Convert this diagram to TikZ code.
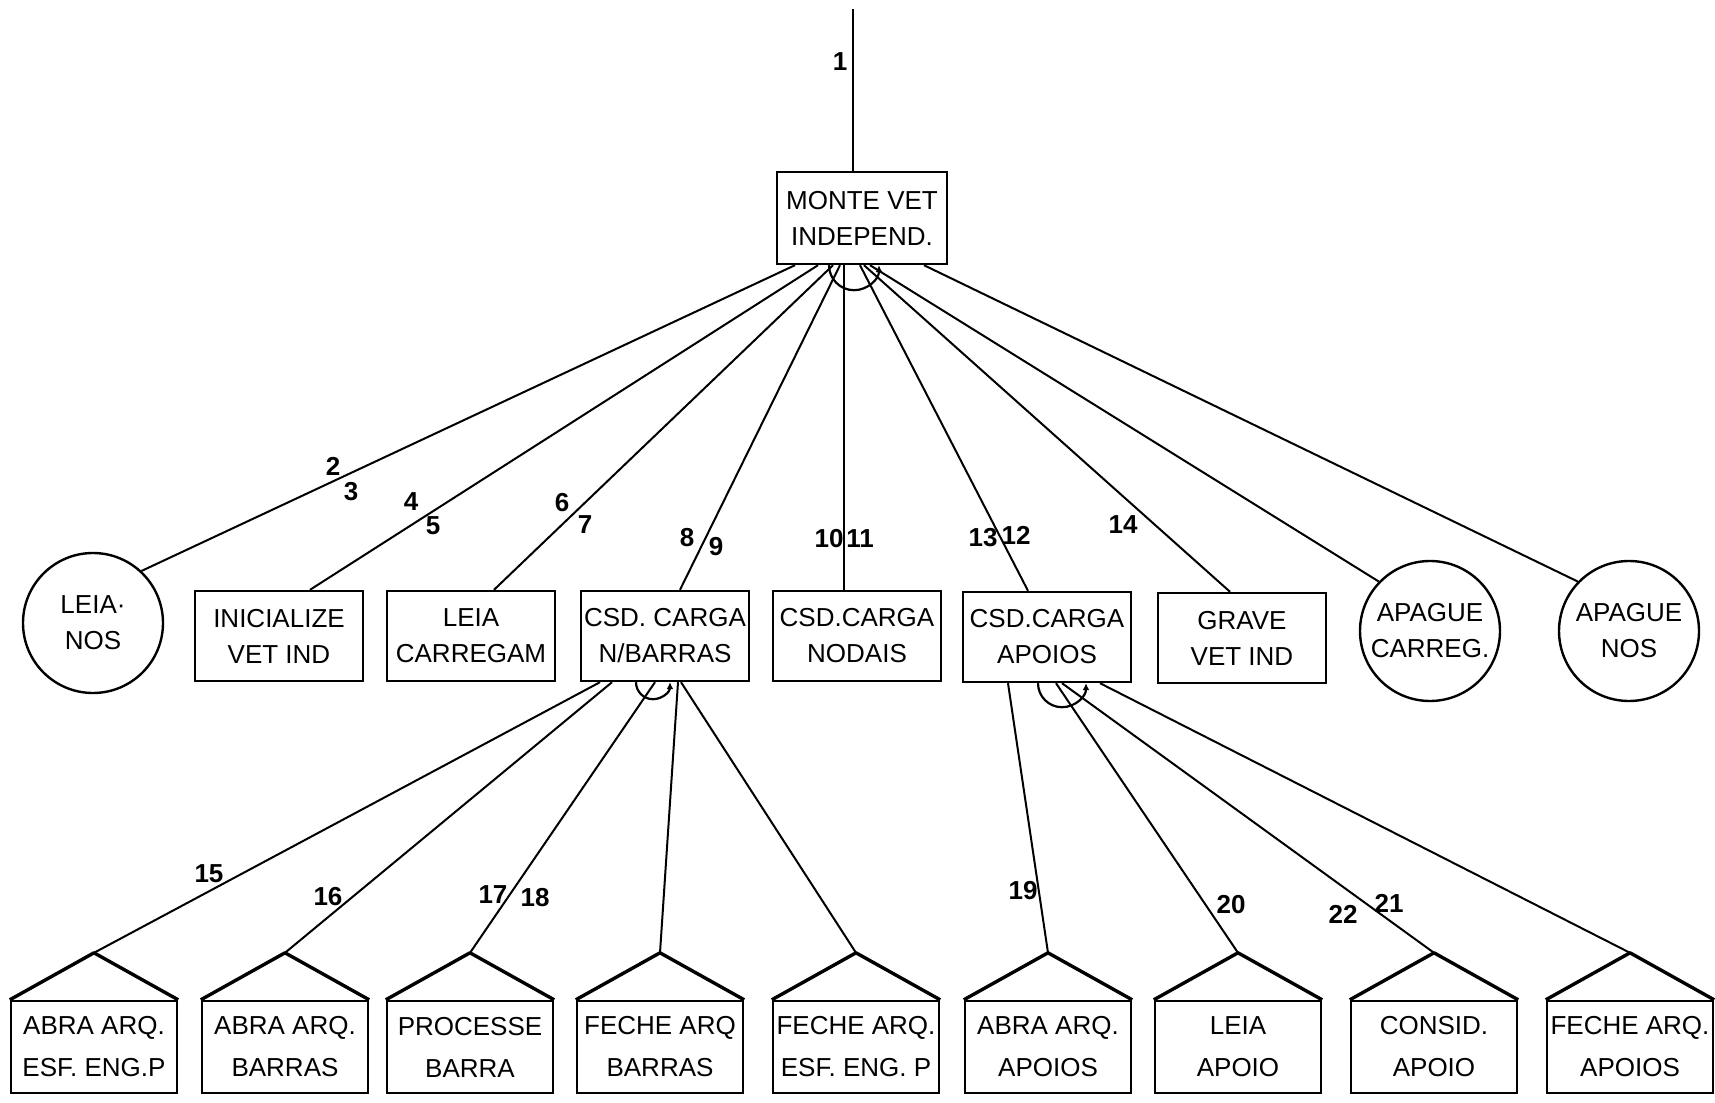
\documentclass[tikz,border=0pt]{standalone}
\usepackage{fontspec}
\setmainfont{Liberation Sans}
\usetikzlibrary{calc}
\usetikzlibrary{arrows.meta}

\begin{document}
\begin{tikzpicture}[x=0.5pt,y=-0.5pt,
  every node/.style={inner sep=0pt,font=\fontsize{13}{18}\selectfont},
  modbox/.style={draw,line width=1.2pt,minimum width=84pt,minimum height=45pt,align=center},
  filebox/.style={draw,line width=1.2pt,minimum width=83pt,minimum height=46pt,align=center,font=\fontsize{13}{21}\selectfont},
  endcirc/.style={draw,circle,line width=1.2pt,minimum size=70pt,align=center},
  num/.style={font=\fontsize{13}{13}\selectfont\bfseries},
  conn/.style={line width=1pt},
  roof/.style={line width=1.7pt,line join=round},
  iter/.style={line width=1.1pt,-{Latex[length=3.5pt,width=3.5pt]}}]
\useasboundingbox (0,0) rectangle (1715,1103);

% top module
\node[modbox,minimum width=85pt,minimum height=46pt] (monte) at (862,218) {MONTE VET\\INDEPEND.};
\coordinate (entry) at (853,9);
\draw[conn] (entry) -- ($(monte.north)+(-9,0)$);
\node[num] (l1) at (840,62) {1};

% second level
\node[endcirc] (leianos) at (93,623) {LEIA·\\NOS};
\node[modbox] (inicial) at (279,636) {INICIALIZE\\VET IND};
\node[modbox] (leiacar) at (471,636) {LEIA\\CARREGAM};
\node[modbox] (csdbar) at (665,636) {CSD. CARGA\\N/BARRAS};
\node[modbox] (csdnod) at (857,636) {CSD.CARGA\\NODAIS};
\node[modbox] (csdapo) at (1047,637) {CSD.CARGA\\APOIOS};
\node[modbox] (grave) at (1242,638) {GRAVE\\VET IND};
\node[endcirc] (apagcar) at (1430,631) {APAGUE\\CARREG.};
\node[endcirc] (apagnos) at (1629,631) {APAGUE\\NOS};

\draw[conn] ($(monte.south)+(-67,0)$) -- (leianos.47);
\draw[conn] ($(monte.south)+(-44,0)$) -- ($(inicial.north)+(31,0)$);
\draw[conn] ($(monte.south)+(-29,0)$) -- ($(leiacar.north)+(23,0)$);
\draw[conn] ($(monte.south)+(-22,0)$) -- ($(csdbar.north)+(15,0)$);
\draw[conn] ($(monte.south)+(-18,0)$) -- ($(csdnod.north)+(-13,0)$);
\draw[conn] ($(monte.south)+(-2,0)$) -- ($(csdapo.north)+(-19,0)$);
\draw[conn] ($(monte.south)+(2,0)$) -- ($(grave.north)+(-12,0)$);
\draw[conn] ($(monte.south)+(8,0)$) -- (apagcar.136);
\draw[conn] ($(monte.south)+(62,0)$) -- (apagnos.136);
\draw[iter] ($(monte.south)+(-33,0)$) arc[start angle=180,end angle=360,radius=12.5pt];

\node[num] (l2) at (333,466) {2};
\node[num] (l3) at (351,492) {3};
\node[num] (l4) at (411,502) {4};
\node[num] (l5) at (433,526) {5};
\node[num] (l6) at (562,503) {6};
\node[num] (l7) at (585,525) {7};
\node[num] (l8) at (687,538) {8};
\node[num] (l9) at (716,547) {9};
\node[num] (l10) at (829,539) {10};
\node[num] (l11) at (860,539) {11};
\node[num] (l13) at (983,538) {13};
\node[num] (l12) at (1016,535) {12};
\node[num] (l14) at (1123,525) {14};

% files
\node[filebox] (f1) at (94,1047) {ABRA ARQ.\\ESF. ENG.P};
\node[filebox] (f2) at (285,1047) {ABRA ARQ.\\BARRAS};
\node[filebox] (f3) at (470,1047) {PROCESSE\\BARRA};
\node[filebox] (f4) at (660,1047) {FECHE ARQ\\BARRAS};
\node[filebox] (f5) at (856,1047) {FECHE ARQ.\\ESF. ENG. P};
\node[filebox] (f6) at (1048,1047) {ABRA ARQ.\\APOIOS};
\node[filebox] (f7) at (1238,1047) {LEIA\\APOIO};
\node[filebox] (f8) at (1434,1047) {CONSID.\\APOIO};
\node[filebox] (f9) at (1630,1047) {FECHE ARQ.\\APOIOS};
\foreach \i in {1,...,9}
  \draw[roof] (f\i.north west) -- ($(f\i.north)+(0,-47)$) coordinate (apex\i) -- (f\i.north east);

\draw[conn] ($(csdbar.south)+(-65,0)$) -- (apex1);
\draw[conn] ($(csdbar.south)+(-53,0)$) -- (apex2);
\draw[conn] ($(csdbar.south)+(-10,0)$) -- (apex3);
\draw[conn] ($(csdbar.south)+(13,0)$) -- (apex4);
\draw[conn] ($(csdbar.south)+(16,0)$) -- (apex5);
\draw[iter] ($(csdbar.south)+(-29,0)$) arc[start angle=180,end angle=360,radius=8.5pt];

\draw[conn] ($(csdapo.south)+(-39,0)$) -- (apex6);
\draw[conn] ($(csdapo.south)+(9,0)$) -- (apex7);
\draw[conn] ($(csdapo.south)+(15,0)$) -- (apex8);
\draw[conn] ($(csdapo.south)+(53,0)$) -- (apex9);
\draw[iter] ($(csdapo.south)+(-9,0)$) arc[start angle=180,end angle=360,radius=12pt];

\node[num] (l15) at (209,874) {15};
\node[num] (l16) at (328,897) {16};
\node[num] (l17) at (493,895) {17};
\node[num] (l18) at (535,898) {18};
\node[num] (l19) at (1023,891) {19};
\node[num] (l20) at (1231,905) {20};
\node[num] (l22) at (1343,914) {22};
\node[num] (l21) at (1389,903) {21};
\end{tikzpicture}
\end{document}
